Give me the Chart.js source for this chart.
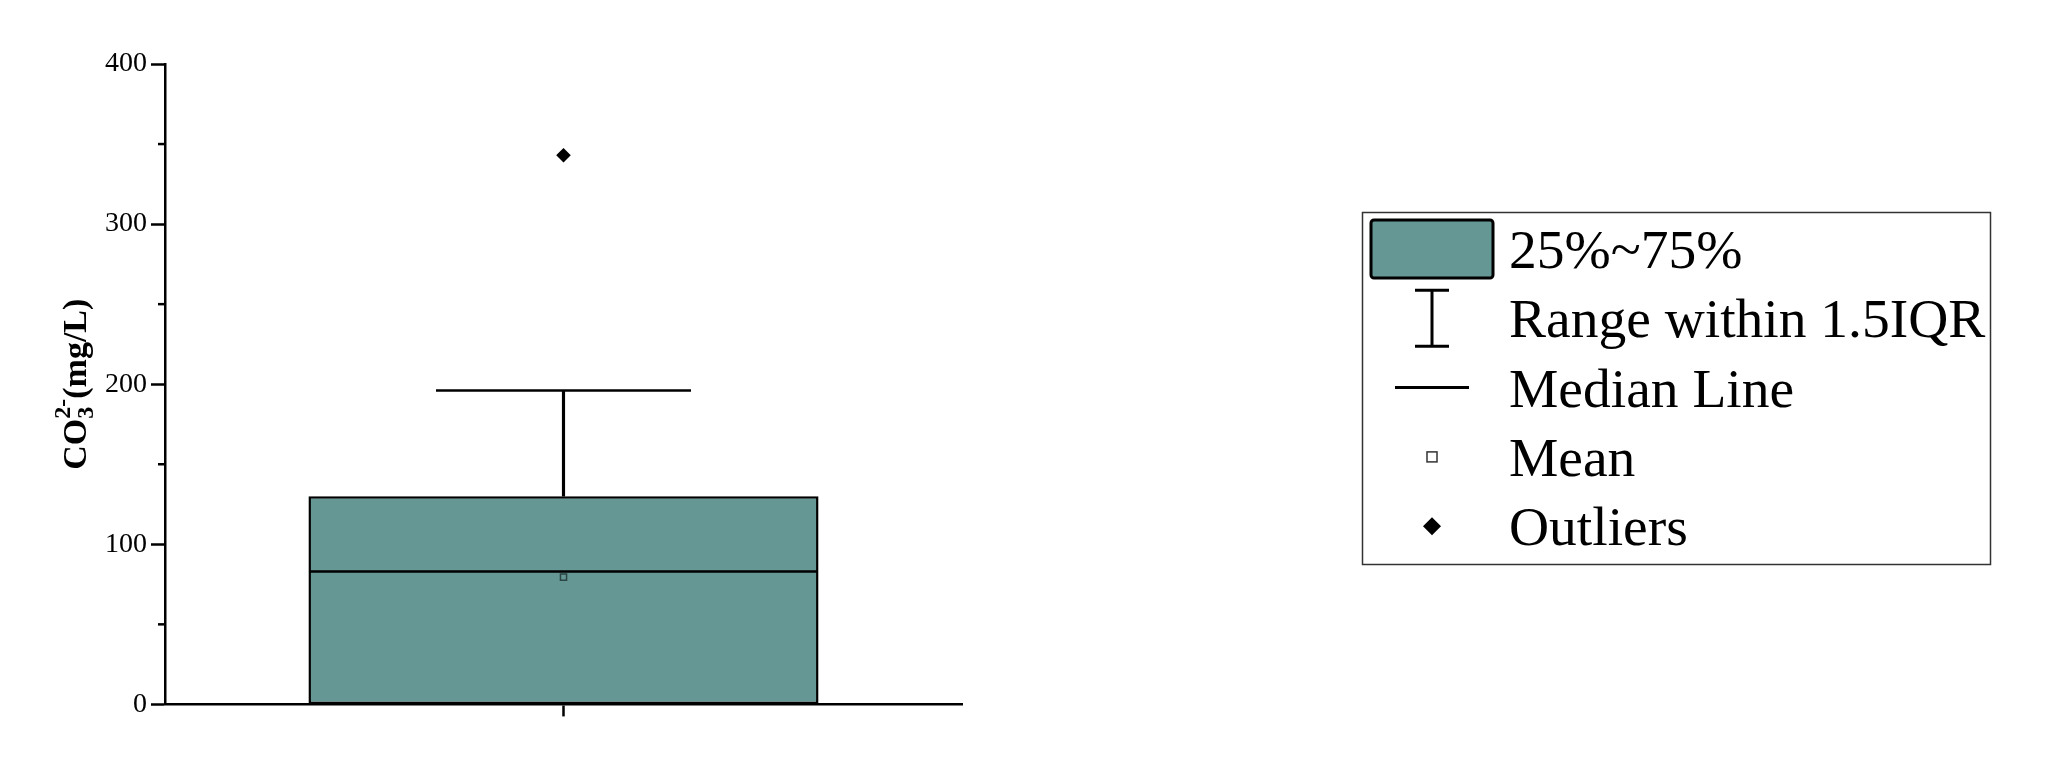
<!DOCTYPE html>
<html lang="en">
<head>
<meta charset="UTF-8">
<title>CO3 box chart</title>
<style>
  html, body { margin: 0; padding: 0; background: #fff; }
</style>
</head>
<body>
<canvas id="myChart" width="2052" height="768"></canvas>
<script src="https://cdn.jsdelivr.net/npm/chart.js"></script>
<script>
// box statistics (mg/L)
const categories = [''];
const boxRange = [[0, 130]];        // Q1 .. Q3
const medians = [83];
const means = [79.5];
const upperWhisker = [[130, 196]];
const lowerWhisker = [[0, 0]];
const whiskerMax = [196];
const whiskerMin = [0];
const outliers = [343];
const yTicks = [0, 100, 200, 300, 400];
const yMinorTicks = [50, 150, 250, 350];
const legendLabels = ['25%~75%', 'Range within 1.5IQR', 'Median Line', 'Mean', 'Outliers'];

const serif = "'Liberation Serif', 'Times New Roman', serif";
const boxColor = '#659795';

// small minor ticks on the y axis
const minorTicks = {
    id: 'minorTicks',
    afterDraw(chart) {
        const ctx = chart.ctx, y = chart.scales.y;
        ctx.save();
        ctx.strokeStyle = '#000';
        ctx.lineWidth = 2.5;
        yMinorTicks.forEach(v => {
            const py = y.getPixelForValue(v);
            ctx.beginPath();
            ctx.moveTo(y.right - 7, py);
            ctx.lineTo(y.right, py);
            ctx.stroke();
        });
        ctx.restore();
    }
};

// rotated y title with sub/superscript
const yTitle = {
    id: 'yTitle',
    afterDraw(chart) {
        const ctx = chart.ctx;
        const big = 'bold 34px ' + serif, small = 'bold 24px ' + serif;
        ctx.save();
        ctx.font = big;
        const wCO = ctx.measureText('CO').width;
        const wUnit = ctx.measureText('(mg/L)').width;
        ctx.font = small;
        const wSup = ctx.measureText('2-').width;
        const total = wCO + wSup + wUnit;
        const cy = (chart.chartArea.top + chart.chartArea.bottom) / 2;
        ctx.translate(77, cy);
        ctx.rotate(-Math.PI / 2);
        ctx.fillStyle = '#000';
        ctx.textBaseline = 'middle';
        let x = -total / 2;
        ctx.font = big;
        ctx.fillText('CO', x, 0);
        x += wCO;
        ctx.font = small;
        ctx.fillText('3', x, 10);
        ctx.fillText('2-', x, -13);
        x += wSup;
        ctx.font = big;
        ctx.fillText('(mg/L)', x, 0);
        ctx.restore();
    }
};

// legend box on the right
const boxLegend = {
    id: 'boxLegend',
    afterDraw(chart) {
        const ctx = chart.ctx;
        const left = 1362, top = 212, w = 628, h = 352;
        const symX = 1432, textX = 1509, rowTop = 249, rowStep = 69.3;
        ctx.save();
        ctx.strokeStyle = '#333';
        ctx.lineWidth = 1.5;
        ctx.strokeRect(left + 0.5, top + 0.5, w, h);

        legendLabels.forEach((label, i) => {
            const cy = rowTop + i * rowStep;
            ctx.strokeStyle = '#000';
            ctx.fillStyle = '#000';
            if (i === 0) {
                ctx.lineWidth = 3;
                ctx.fillStyle = boxColor;
                ctx.beginPath();
                ctx.roundRect(symX - 61, cy - 29, 122, 58, 3);
                ctx.fill();
                ctx.stroke();
            } else if (i === 1) {
                ctx.lineWidth = 3;
                ctx.beginPath();
                ctx.moveTo(symX, cy - 28); ctx.lineTo(symX, cy + 28);
                ctx.moveTo(symX - 17, cy - 28); ctx.lineTo(symX + 17, cy - 28);
                ctx.moveTo(symX - 17, cy + 28); ctx.lineTo(symX + 17, cy + 28);
                ctx.stroke();
            } else if (i === 2) {
                ctx.lineWidth = 3;
                ctx.beginPath();
                ctx.moveTo(symX - 37, cy); ctx.lineTo(symX + 37, cy);
                ctx.stroke();
            } else if (i === 3) {
                ctx.lineWidth = 1.5;
                ctx.strokeStyle = '#333';
                ctx.fillStyle = '#fff';
                ctx.fillRect(symX - 5, cy - 5, 10, 10);
                ctx.strokeRect(symX - 5, cy - 5, 10, 10);
            } else {
                ctx.beginPath();
                ctx.moveTo(symX, cy - 9); ctx.lineTo(symX + 9, cy);
                ctx.lineTo(symX, cy + 9); ctx.lineTo(symX - 9, cy);
                ctx.closePath();
                ctx.fill();
            }
            ctx.fillStyle = '#000';
            ctx.font = '55.5px ' + serif;
            ctx.textBaseline = 'alphabetic';
            ctx.fillText(label, textX, cy + 19);
        });
        ctx.restore();
    }
};

const pointSet = (data, style, radius, extra) => Object.assign({
    type: 'line',
    data: data,
    showLine: false,
    pointStyle: style,
    pointRadius: radius,
    pointHoverRadius: radius,
    pointBorderColor: '#000',
    pointBackgroundColor: '#000',
    pointBorderWidth: 2.5,
    order: 1
}, extra || {});

new Chart(document.getElementById('myChart'), {
    type: 'bar',
    data: {
        labels: categories,
        datasets: [
            {
                label: 'box',
                data: boxRange,
                backgroundColor: boxColor,
                borderColor: '#000',
                borderWidth: 2.5,
                borderSkipped: false,
                barPercentage: 0.64,
                categoryPercentage: 1,
                grouped: false,
                order: 5
            },
            {
                label: 'upper whisker',
                data: upperWhisker,
                backgroundColor: '#000',
                barThickness: 2.5,
                grouped: false,
                order: 6
            },
            {
                label: 'lower whisker',
                data: lowerWhisker,
                backgroundColor: '#000',
                barThickness: 2.5,
                grouped: false,
                order: 6
            },
            pointSet(whiskerMax, 'line', 127.5, { label: 'cap max', order: 2 }),
            pointSet(whiskerMin, 'line', 127.5, { label: 'cap min', order: 7 }),
            pointSet(medians, 'line', 254.5, { label: 'median' }),
            pointSet(means, 'rect', 4.3, {
                label: 'mean',
                pointBorderColor: '#2b4544',
                pointBackgroundColor: 'rgba(0,0,0,0)',
                pointBorderWidth: 1.5
            }),
            pointSet(outliers, 'rectRot', 5.5, { label: 'outliers' })
        ]
    },
    options: {
        responsive: false,
        devicePixelRatio: 1,
        animation: false,
        layout: { autoPadding: false, padding: { left: 101, right: 1090, top: 64, bottom: 12 } },
        plugins: {
            legend: { display: false },
            tooltip: { enabled: false }
        },
        scales: {
            x: {
                type: 'category',
                offset: true,
                grid: {
                    offset: false,
                    drawOnChartArea: false,
                    tickLength: 12,
                    tickWidth: 2.5,
                    tickColor: '#000'
                },
                border: { color: '#000', width: 2.5 },
                ticks: {
                    callback: () => ' ',
                    font: { family: serif, size: 28 },
                    color: '#000'
                }
            },
            y: {
                min: 0,
                max: 400,
                afterBuildTicks: scale => { scale.ticks = yTicks.map(v => ({ value: v })); },
                grid: {
                    drawOnChartArea: false,
                    tickLength: 14,
                    tickWidth: 2.5,
                    tickColor: '#000'
                },
                border: { color: '#000', width: 2.5 },
                ticks: {
                    padding: 4,
                    font: { family: serif, size: 28 },
                    color: '#000'
                }
            }
        }
    },
    plugins: [minorTicks, yTitle, boxLegend]
});
</script>
</body>
</html>
